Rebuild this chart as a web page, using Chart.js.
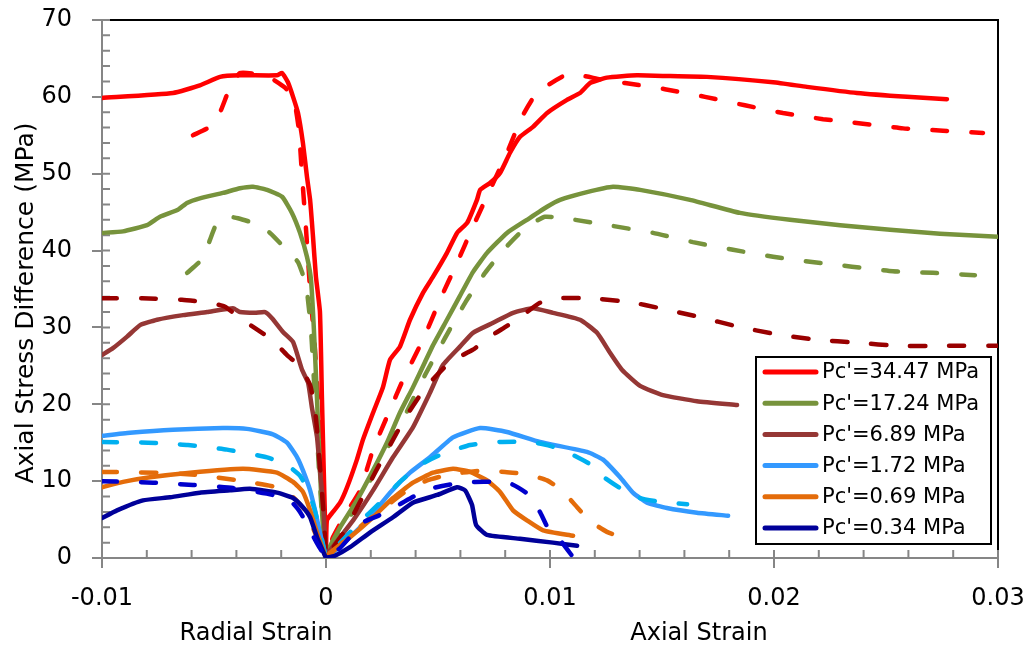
<!DOCTYPE html>
<html>
<head>
<meta charset="utf-8">
<script src="https://cdn.jsdelivr.net/npm/chart.js@4.4.1/dist/chart.umd.min.js"></script>
<style>
  html, body { margin: 0; padding: 0; background: #fff; }
  #wrap { width: 1032px; height: 649px; }
</style>
</head>
<body>
<div id="wrap"><canvas id="grafico"></canvas></div>
<script>
// [strain, axial stress difference (MPa)] ; radial strain plotted negative
const pressures = ["Pc'=34.47 MPa", "Pc'=17.24 MPa", "Pc'=6.89 MPa", "Pc'=1.72 MPa", "Pc'=0.69 MPa", "Pc'=0.34 MPa"];
const xTickLabels = ['-0.01', '0', '0.01', '0.02', '0.03'];
const yTickLabels = ['0', '10', '20', '30', '40', '50', '60', '70'];

// Pc' = 34.47 MPa
const radial3447 = [[-0.01,59.85],[-0.00683,60.5],[-0.00563,61.5],[-0.00473,62.6],[-0.00384,62.8],[-0.00219,62.8],[-0.00196,63.1],[-0.0017,61.9],[-0.00147,60.0],[-0.00125,57.9],[-0.00103,54.0],[-0.00085,49.6],[-0.00071,46.6],[-0.00058,41.8],[-0.00045,36.6],[-0.00027,32.0],[-0.00018,20.6],[-0.00009,10.1],[0,0]];
const axial3447 = [[0,0],[0.00004,4.9],[0.00031,6.0],[0.00063,7.2],[0.00094,9.2],[0.00138,12.8],[0.00165,15.4],[0.0021,18.9],[0.00254,22.2],[0.00286,25.8],[0.0033,27.5],[0.00375,31.0],[0.00433,34.5],[0.00478,36.6],[0.0054,39.7],[0.00585,42.3],[0.0063,43.6],[0.00674,46.6],[0.00688,47.9],[0.00732,48.8],[0.00777,50.1],[0.00821,52.7],[0.00866,54.8],[0.00924,56.1],[0.00987,57.9],[0.01076,59.6],[0.01134,60.5],[0.01179,61.8],[0.01254,62.5],[0.01388,62.8],[0.01536,62.7],[0.01701,62.6],[0.01996,61.9],[0.02147,61.3],[0.0237,60.5],[0.02594,60.0],[0.02772,59.7]];
const radial3447b = [[-0.00594,55.0],[-0.00518,56.1],[-0.00473,58.0],[-0.00429,61.2],[-0.00384,63.1],[-0.00317,63.0],[-0.0025,62.5],[-0.00183,61.2],[-0.00143,59.6],[-0.00121,55.7],[-0.00107,49.8],[-0.00089,42.7],[-0.00071,34.9],[-0.00049,27.1],[-0.00031,18.0],[-0.00018,8.8],[0,0]];
const axial3447b = [[0,0],[0.00031,2.7],[0.00085,5.6],[0.00152,8.8],[0.0021,14.1],[0.00286,19.3],[0.00344,23.2],[0.00433,28.4],[0.00509,33.6],[0.00585,38.4],[0.00656,43.1],[0.00732,47.9],[0.00808,52.7],[0.00875,57.4],[0.00933,60.2],[0.01,61.7],[0.01067,62.8],[0.01134,62.8],[0.01223,62.3],[0.01335,61.8],[0.01513,61.0],[0.01692,60.0],[0.0187,58.9],[0.0204,57.9],[0.02219,57.1],[0.02397,56.5],[0.02576,55.9],[0.02754,55.6],[0.02933,55.3]];

// Pc' = 17.24 MPa
const radial1724 = [[-0.01,42.3],[-0.00906,42.5],[-0.00799,43.3],[-0.00741,44.4],[-0.00661,45.3],[-0.00621,46.2],[-0.00563,46.8],[-0.0046,47.5],[-0.00384,48.1],[-0.00326,48.3],[-0.00263,47.9],[-0.00196,47.0],[-0.00152,44.9],[-0.00116,42.3],[-0.00085,39.2],[-0.00067,36.2],[-0.00054,29.7],[-0.0004,20.6],[-0.00027,11.4],[-0.00013,3.6],[0,0]];
const axial1724 = [[0,0],[0.00004,0.7],[0.00063,4.0],[0.00138,7.5],[0.0021,11.4],[0.00272,15.0],[0.0033,18.9],[0.00388,22.2],[0.00442,25.5],[0.00478,27.7],[0.0054,31.0],[0.00598,34.1],[0.00656,37.2],[0.00719,39.7],[0.00808,42.3],[0.00897,44.0],[0.00987,45.7],[0.01045,46.6],[0.01165,47.6],[0.01281,48.3],[0.01402,47.9],[0.01625,46.6],[0.01848,44.9],[0.02071,44.0],[0.02295,43.3],[0.02518,42.7],[0.02741,42.2],[0.03,41.8]];
const radial1724b = [[-0.0062,37.1],[-0.00549,39.0],[-0.00518,41.4],[-0.00487,43.6],[-0.00438,44.4],[-0.00393,44.2],[-0.00326,43.6],[-0.0025,42.3],[-0.00183,40.3],[-0.00125,38.5],[-0.00089,35.5],[-0.00067,29.7],[-0.00049,20.6],[-0.00031,11.4],[-0.00013,3.6],[0,0]];
const axial1724b = [[0,0],[0.00085,4.3],[0.00174,8.8],[0.00263,13.7],[0.00353,18.6],[0.00442,23.8],[0.00531,28.6],[0.00621,33.2],[0.0071,37.1],[0.00799,40.3],[0.00888,42.9],[0.00978,44.4],[0.01112,44.0],[0.01281,43.2],[0.0146,42.3],[0.01638,41.1],[0.01817,40.1],[0.01996,39.2],[0.0217,38.5],[0.02348,37.9],[0.02531,37.3],[0.0271,37.1],[0.02897,36.8]];

// Pc' = 6.89 MPa
const radial689 = [[-0.01,26.4],[-0.00951,27.3],[-0.00888,28.8],[-0.0083,30.3],[-0.00754,31.0],[-0.00638,31.6],[-0.00531,32.0],[-0.00415,32.5],[-0.00384,32.0],[-0.00317,31.9],[-0.00272,32.0],[-0.00241,31.2],[-0.00192,29.4],[-0.00147,28.1],[-0.00107,24.5],[-0.0008,22.8],[-0.00063,19.6],[-0.0004,15.7],[-0.00027,11.4],[-0.00013,7.2],[0,0]];
const axial689 = [[0,0],[0.00018,1.0],[0.00121,4.9],[0.0021,8.8],[0.00299,13.1],[0.00388,17.0],[0.00464,21.5],[0.00522,25.1],[0.00598,27.5],[0.00656,29.3],[0.00746,30.6],[0.00835,31.9],[0.00924,32.5],[0.01013,31.9],[0.01134,31.0],[0.0121,29.3],[0.01268,26.7],[0.01321,24.5],[0.01402,22.4],[0.01504,21.2],[0.01656,20.4],[0.01835,19.9]];
const radial689b = [[-0.01,33.8],[-0.00821,33.8],[-0.00643,33.6],[-0.00518,33.2],[-0.00451,32.7],[-0.00384,31.2],[-0.00317,29.9],[-0.00241,28.4],[-0.00174,26.4],[-0.00116,24.9],[-0.00071,22.5],[-0.00049,19.3],[-0.00036,15.4],[-0.00022,10.1],[-0.00009,4.9],[0,0]];
const axial689b = [[0,0],[0.00085,3.6],[0.00152,7.3],[0.00219,11.1],[0.00286,14.7],[0.00353,18.2],[0.00442,22.1],[0.00554,25.5],[0.00656,27.1],[0.00732,28.8],[0.00808,30.2],[0.00879,31.6],[0.00955,33.2],[0.01036,33.8],[0.01179,33.8],[0.01357,33.3],[0.01491,32.5],[0.01661,31.4],[0.01839,30.1],[0.02013,29.1],[0.02192,28.4],[0.02375,28.0],[0.02554,27.6],[0.02732,27.6],[0.03,27.6]];

// Pc' = 1.72 MPa
const radial172 = [[-0.01,15.9],[-0.00875,16.3],[-0.00683,16.7],[-0.0046,16.9],[-0.00353,16.8],[-0.00237,16.1],[-0.00174,15.0],[-0.00129,13.1],[-0.00103,11.4],[-0.00071,8.8],[-0.00049,6.2],[-0.00027,3.3],[0,0]];
const axial172 = [[0,0],[0.00031,0.7],[0.00107,2.7],[0.00196,5.3],[0.00286,8.5],[0.00375,11.1],[0.00464,13.1],[0.00567,15.7],[0.00688,16.9],[0.00808,16.4],[0.00955,15.1],[0.01165,13.8],[0.01237,12.8],[0.01313,10.5],[0.0137,8.5],[0.01433,7.2],[0.01522,6.5],[0.01656,5.9],[0.01795,5.5]];
const radial172b = [[-0.01,15.1],[-0.00795,15.0],[-0.00616,14.7],[-0.00442,14.1],[-0.00263,13.1],[-0.00174,12.1],[-0.00116,10.7],[-0.0008,8.8],[-0.00054,6.6],[-0.00027,3.6],[0,0]];
const axial172b = [[0,0],[0.00054,1.7],[0.00152,4.7],[0.00241,7.2],[0.0033,9.9],[0.0042,12.1],[0.00509,13.4],[0.00643,14.7],[0.00777,15.1],[0.00911,15.1],[0.01,14.6],[0.01103,13.4],[0.01179,12.2],[0.01246,10.4],[0.01313,9.1],[0.01402,7.8],[0.01491,7.3],[0.01612,7.0]];

// Pc' = 0.69 MPa
const radial069 = [[-0.01,9.2],[-0.00906,9.9],[-0.00786,10.5],[-0.00607,11.1],[-0.00371,11.6],[-0.00219,11.1],[-0.00147,9.9],[-0.00103,8.6],[-0.00071,6.2],[-0.0004,3.3],[0,0]];
const axial069 = [[0,0],[0.00018,0.7],[0.00107,2.7],[0.0021,5.3],[0.00299,7.8],[0.00388,9.8],[0.00478,11.1],[0.00567,11.6],[0.00643,11.2],[0.00719,10.1],[0.00777,8.6],[0.00835,6.2],[0.00897,4.9],[0.00969,3.6],[0.01103,2.9]];
const radial069b = [[-0.01,11.2],[-0.0075,11.1],[-0.00571,10.8],[-0.00393,10.1],[-0.00219,9.2],[-0.00147,7.9],[-0.00094,6.2],[-0.00058,3.9],[-0.00027,1.7],[0,0]];
const axial069b = [[0,0],[0.00085,2.3],[0.00174,4.6],[0.00263,6.6],[0.00353,8.6],[0.00451,10.1],[0.0054,10.8],[0.00665,11.3],[0.00799,11.2],[0.00897,10.9],[0.00987,10.1],[0.01054,8.8],[0.01121,6.6],[0.01179,4.8],[0.01254,3.4],[0.01321,2.7]];

// Pc' = 0.34 MPa
const radial034 = [[-0.01,5.2],[-0.00933,6.2],[-0.00817,7.5],[-0.00696,7.9],[-0.00563,8.5],[-0.00429,8.8],[-0.00339,9.0],[-0.00219,8.5],[-0.00147,7.8],[-0.00103,6.6],[-0.00071,5.3],[-0.0004,2.7],[0,0]];
const axial034 = [[0,0],[0.0004,0.3],[0.00107,1.4],[0.00196,3.3],[0.00299,5.3],[0.00388,7.2],[0.00496,8.2],[0.00585,9.2],[0.00621,8.8],[0.00652,6.9],[0.0067,4.3],[0.00719,3.0],[0.00866,2.5],[0.01013,2.0],[0.01121,1.6]];
const radial034b = [[-0.01,10.0],[-0.00772,9.8],[-0.00594,9.5],[-0.00415,9.1],[-0.00237,8.2],[-0.00161,7.5],[-0.00116,6.0],[-0.00071,3.6],[-0.00036,1.7],[0,0]];
const axial034b = [[0,0],[0.00063,1.3],[0.00165,4.6],[0.00241,5.6],[0.0033,7.0],[0.00397,8.1],[0.00478,9.1],[0.00563,9.6],[0.00665,9.9],[0.00754,9.9],[0.0083,9.6],[0.00902,8.3],[0.00955,6.0],[0.00991,3.9],[0.01054,2.0],[0.01103,0.1]];

const solidLines = [radial3447.concat(axial3447), radial1724.concat(axial1724), radial689.concat(axial689),
                    radial172.concat(axial172), radial069.concat(axial069), radial034.concat(axial034)];
const dashedLines = [radial3447b.concat(axial3447b), radial1724b.concat(axial1724b), radial689b.concat(axial689b),
                     radial172b.concat(axial172b), radial069b.concat(axial069b), radial034b.concat(axial034b)];

const solidColors = ['#FF0000', '#77933C', '#953735', '#3399FF', '#E46C0A', '#000099'];
const dashedColors = ['#FF0000', '#77933C', '#990000', '#00B0F0', '#E46C0A', '#0000CC'];
const axisGray = '#868686';
const fontName = '"DejaVu Sans", sans-serif';

const datasets = [];
pressures.forEach((lab, i) => {
  datasets.push({
    label: lab,
    data: solidLines[i].map(p => ({ x: p[0], y: p[1] })),
    borderColor: solidColors[i],
    borderWidth: 4.5,
    borderJoinStyle: 'round',
    borderCapStyle: 'round',
    order: 100 - i * 2
  });
  datasets.push({
    label: lab + ' (dashed)',
    data: dashedLines[i].map(p => ({ x: p[0], y: p[1] })),
    borderColor: dashedColors[i],
    borderWidth: 4.5,
    borderDash: [15, 24],
    borderCapStyle: 'round',
    order: 99 - i * 2
  });
});

// ticks inside the plot, black frame, axis titles, legend box
const extras = {
  id: 'extras',
  beforeDatasetsDraw(chart) {
    const { ctx, chartArea: a, scales } = chart;
    ctx.save();
    ctx.strokeStyle = '#000';
    ctx.lineWidth = 2;
    ctx.beginPath();
    ctx.moveTo(a.left, a.top);
    ctx.lineTo(a.right, a.top);
    ctx.lineTo(a.right, a.bottom);
    ctx.stroke();

    ctx.strokeStyle = axisGray;
    ctx.lineWidth = 2;
    ctx.beginPath();
    for (let k = 0; k <= 20; k++) {
      const px = scales.x.getPixelForValue(-0.01 + k * 0.002);
      ctx.moveTo(px, a.bottom);
      ctx.lineTo(px, a.bottom - 8);
    }
    for (let k = 0; k <= 35; k++) {
      const py = scales.y.getPixelForValue(k * 2);
      ctx.moveTo(a.left, py);
      ctx.lineTo(a.left + 8, py);
    }
    ctx.stroke();

    ctx.fillStyle = '#000';
    ctx.font = '24px ' + fontName;
    ctx.textAlign = 'center';
    ctx.textBaseline = 'alphabetic';
    ctx.fillText('Radial Strain', scales.x.getPixelForValue(-0.003125), a.bottom + 82);
    ctx.fillText('Axial Strain', scales.x.getPixelForValue(0.01665), a.bottom + 82);

    ctx.translate(26, (a.top + a.bottom) / 2 + 14);
    ctx.rotate(-Math.PI / 2);
    ctx.font = '25px ' + fontName;
    ctx.textBaseline = 'middle';
    ctx.fillText('Axial Stress Difference (MPa)', 0, 0);
    ctx.restore();
  },
  afterDraw(chart) {
    const { ctx, chartArea: a } = chart;
    const w = 235, h = 187;
    const x0 = a.right - 242, y0 = a.bottom - 201;
    ctx.save();
    ctx.fillStyle = '#fff';
    ctx.fillRect(x0, y0, w, h);
    ctx.strokeStyle = '#000';
    ctx.lineWidth = 2;
    ctx.strokeRect(x0, y0, w, h);
    ctx.font = '21px ' + fontName;
    ctx.textBaseline = 'middle';
    ctx.textAlign = 'left';
    pressures.forEach((lab, i) => {
      const y = y0 + 15 + i * 31.2;
      ctx.strokeStyle = solidColors[i];
      ctx.lineWidth = 5;
      ctx.lineCap = 'round';
      ctx.beginPath();
      ctx.moveTo(x0 + 9, y);
      ctx.lineTo(x0 + 60, y);
      ctx.stroke();
      ctx.fillStyle = '#000';
      ctx.fillText(lab, x0 + 66, y + 1);
    });
    ctx.restore();
  }
};

new Chart(document.getElementById('grafico'), {
  type: 'line',
  data: { datasets },
  plugins: [extras],
  options: {
    responsive: true,
    maintainAspectRatio: false,
    animation: false,
    layout: { padding: { left: 0, top: 20, right: 34, bottom: 0 } },
    elements: { point: { radius: 0 }, line: { tension: 0.15, fill: false } },
    plugins: { legend: { display: false }, tooltip: { enabled: false } },
    scales: {
      x: {
        type: 'linear',
        min: -0.01,
        max: 0.03,
        afterFit: s => { s.height = 91; s.paddingLeft = 0; s.paddingRight = 0; },
        ticks: {
          stepSize: 0.01,
          autoSkip: false,
          maxRotation: 0,
          padding: 16,
          color: '#000',
          font: { family: fontName, size: 24 },
          callback: (v, i) => xTickLabels[i]
        },
        grid: { drawOnChartArea: false, drawTicks: true, tickLength: 10, color: axisGray, lineWidth: 2 },
        border: { color: axisGray, width: 2 }
      },
      y: {
        min: 0,
        max: 70,
        afterFit: s => { s.width = 102; s.paddingTop = 0; s.paddingBottom = 0; },
        ticks: {
          stepSize: 10,
          padding: 20,
          color: '#000',
          font: { family: fontName, size: 24 },
          callback: (v, i) => yTickLabels[i]
        },
        grid: { drawOnChartArea: false, drawTicks: true, tickLength: 10, color: axisGray, lineWidth: 2 },
        border: { color: axisGray, width: 2 }
      }
    }
  }
});
</script>
</body>
</html>
